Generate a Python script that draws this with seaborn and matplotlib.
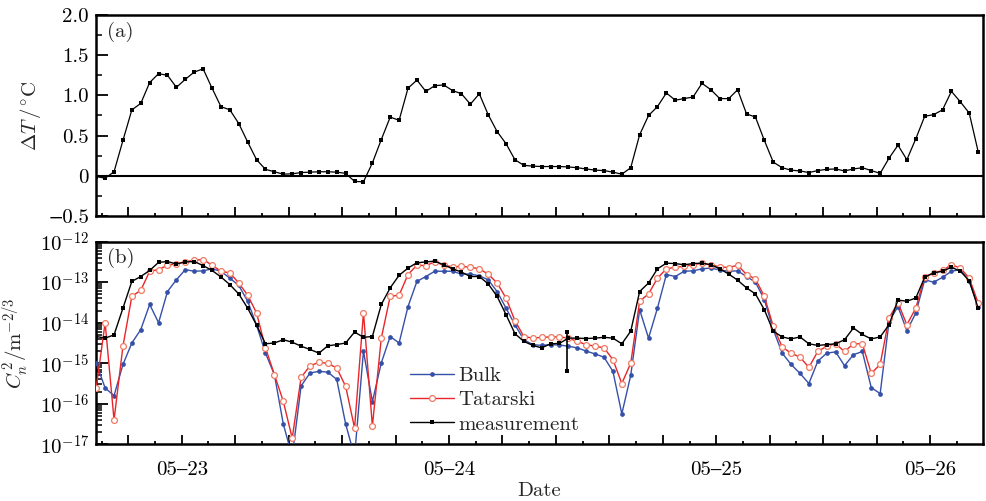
import numpy as np
import pandas as pd
import matplotlib
matplotlib.use("Agg")
import matplotlib.pyplot as plt
import seaborn as sns
from matplotlib.ticker import FixedLocator, LogLocator, NullFormatter, MultipleLocator

# ---------------- data ----------------
# time axis in days (05-23 00:00 = 1.0), 100 samples
t = np.linspace(0.68, 3.98, 100)

dT = [-0.01, -0.03, 0.05, 0.44, 0.82, 0.90, 1.16, 1.27, 1.25, 1.10,
      1.20, 1.29, 1.33, 1.09, 0.86, 0.82, 0.65, 0.42, 0.20, 0.08,
      0.05, 0.02, 0.025, 0.04, 0.045, 0.05, 0.05, 0.045, 0.03, -0.07,
      -0.075, 0.16, 0.45, 0.73, 0.69, 1.09, 1.19, 1.05, 1.12, 1.13,
      1.06, 1.02, 0.89, 1.02, 0.76, 0.55, 0.40, 0.20, 0.13, 0.12,
      0.115, 0.115, 0.115, 0.11, 0.10, 0.085, 0.07, 0.065, 0.045, 0.02,
      0.10, 0.51, 0.75, 0.86, 1.03, 0.94, 0.96, 0.98, 1.15, 1.07,
      0.96, 0.96, 1.07, 0.77, 0.73, 0.44, 0.17, 0.10, 0.07, 0.06,
      0.04, 0.065, 0.08, 0.085, 0.06, 0.085, 0.10, 0.065, 0.03, 0.22,
      0.38, 0.20, 0.46, 0.74, 0.76, 0.82, 1.05, 0.92, 0.78, 0.30]

# log10 of Cn^2 (m^-2/3)
meas_log = [-14.34, -14.38, -14.30, -13.64, -12.98, -12.86, -12.71, -12.51, -12.49, -12.55,
            -12.50, -12.49, -12.59, -12.71, -12.87, -13.06, -13.29, -13.64, -14.06, -14.52,
            -14.50, -14.42, -14.48, -14.58, -14.66, -14.75, -14.57, -14.54, -14.50, -14.23,
            -14.36, -14.34, -13.55, -13.14, -12.83, -12.65, -12.52, -12.50, -12.48, -12.57,
            -12.67, -12.75, -12.86, -12.86, -13.04, -13.35, -13.80, -14.27, -14.46, -14.56,
            -14.62, -14.52, -14.51, -14.38, -14.38, -14.39, -14.38, -14.36, -14.38, -14.52,
            -14.21, -13.23, -13.02, -12.67, -12.53, -12.54, -12.57, -12.54, -12.53, -12.57,
            -12.67, -12.80, -12.95, -13.14, -13.29, -13.68, -14.21, -14.35, -14.40, -14.35,
            -14.52, -14.56, -14.54, -14.52, -14.42, -14.13, -14.29, -14.40, -14.35, -14.05,
            -13.44, -13.47, -13.39, -12.88, -12.77, -12.73, -12.63, -12.73, -12.96, -13.64]

tat_log = [-15.60, -14.00, -16.40, -14.58, -13.35, -13.20, -12.73, -12.69, -12.58, -12.55,
           -12.49, -12.46, -12.44, -12.58, -12.73, -12.77, -13.02, -13.32, -13.76, -14.62,
           -15.28, -15.94, -16.85, -15.35, -15.06, -14.98, -15.00, -15.12, -15.57, -16.60,
           -13.75, -16.55, -14.38, -13.35, -13.32, -12.81, -12.58, -12.59, -12.50, -12.58,
           -12.62, -12.61, -12.63, -12.67, -12.80, -13.02, -13.39, -13.95, -14.34, -14.38,
           -14.36, -14.35, -14.35, -14.38, -14.46, -14.54, -14.58, -14.62, -14.91, -15.50,
           -15.00, -13.47, -13.29, -12.90, -12.67, -12.63, -12.61, -12.57, -12.53, -12.57,
           -12.62, -12.64, -12.58, -12.81, -12.92, -13.35, -14.09, -14.60, -14.75, -14.85,
           -15.10, -14.71, -14.58, -14.52, -14.71, -14.52, -14.52, -15.25, -15.03, -13.88,
           -13.51, -14.05, -13.64, -12.86, -12.77, -12.71, -12.57, -12.65, -12.90, -13.51]

bulk_log = [-15.00, -15.61, -15.80, -15.03, -14.50, -14.17, -13.55, -14.00, -13.23, -12.94,
            -12.69, -12.73, -12.72, -12.67, -12.73, -12.90, -13.08, -13.47, -14.06, -14.75,
            -15.28, -16.50, -17.30, -15.56, -15.24, -15.20, -15.22, -15.40, -16.50, -17.30,
            -14.70, -15.95, -14.99, -14.34, -14.50, -13.60, -12.98, -12.86, -12.73, -12.73,
            -12.73, -12.80, -12.80, -12.84, -12.94, -13.23, -13.64, -14.05, -14.42, -14.54,
            -14.56, -14.54, -14.55, -14.58, -14.62, -14.70, -14.77, -14.85, -15.20, -16.25,
            -15.30, -13.68, -14.38, -13.64, -12.81, -12.86, -12.73, -12.72, -12.67, -12.65,
            -12.70, -12.73, -12.72, -12.86, -13.00, -13.43, -14.17, -14.75, -15.03, -15.25,
            -15.50, -14.95, -14.75, -14.72, -15.06, -14.79, -14.71, -15.60, -15.75, -13.97,
            -13.60, -14.20, -13.76, -12.94, -13.00, -12.88, -12.73, -12.69, -12.98, -13.60]

# short vertical excursion in the measurement record
spike_t = [2.443, 2.443]
spike_log = [-14.22, -15.18]

x_major = [0.8, 1.0, 1.2, 1.4, 1.6, 1.8, 2.0, 2.2, 2.4, 2.6, 2.8, 3.0, 3.2, 3.4, 3.6, 3.8]
x_labels = {1.0: "05\u201323", 2.0: "05\u201324", 3.0: "05\u201325", 3.8: "05\u201326"}
dT_ticks = [-0.5, 0, 0.5, 1.0, 1.5, 2.0]
dT_ticklabels = ["\u22120.5", "0", "0.5", "1.0", "1.5", "2.0"]
cn_exps = [-17, -16, -15, -14, -13, -12]

# ---------------- style ----------------
sns.set_theme(style="ticks")
plt.rcParams["font.family"] = ["cmr10", "STIXGeneral", "DejaVu Serif"]
plt.rcParams["mathtext.fontset"] = "cm"
plt.rcParams["axes.unicode_minus"] = True
plt.rcParams["axes.linewidth"] = 1.8
FS = 15

fig = plt.figure(figsize=(9.86, 5.01), dpi=100)
fig.patch.set_facecolor("white")
ax1 = fig.add_axes([0.0974, 0.5689, 0.8996, 0.4012])
ax2 = fig.add_axes([0.0974, 0.1132, 0.8996, 0.4044])

xmin, xmax = 0.6793, 3.9983

# ---------------- panel (a) ----------------
df_a = pd.DataFrame({"t": t, "dT": dT})
ax1.axhline(0, color="black", lw=1.5, zorder=1)
sns.lineplot(data=df_a, x="t", y="dT", ax=ax1, color="black", lw=0.9,
             marker="s", markersize=2.6, markeredgewidth=0, zorder=3)
ax1.set_xlim(xmin, xmax)
ax1.set_ylim(-0.5, 2.0)
ax1.set_yticks(dT_ticks)
ax1.set_yticklabels(dT_ticklabels)
ax1.yaxis.set_minor_locator(MultipleLocator(0.25))
ax1.set_xlabel("")
ax1.set_ylabel(r"$\Delta T\,/^{\circ}\mathrm{C}$", fontsize=FS, labelpad=4)
ax1.text(0.012, 0.965, "(a)", transform=ax1.transAxes, ha="left", va="top", fontsize=FS)

# ---------------- panel (b) ----------------
df_b = pd.DataFrame({"t": t,
                     "Bulk": 10.0 ** np.array(bulk_log),
                     "Tatarski": 10.0 ** np.array(tat_log),
                     "measurement": 10.0 ** np.array(meas_log)})
sns.lineplot(data=df_b, x="t", y="Bulk", ax=ax2, color="#3550a8", lw=1.0,
             marker="o", markersize=3.4, markeredgewidth=0, label="Bulk", zorder=3)
sns.lineplot(data=df_b, x="t", y="Tatarski", ax=ax2, color="#e8262a", lw=1.0,
             marker="o", markersize=4.2, markerfacecolor="white",
             markeredgecolor="#f07a62", markeredgewidth=0.9, label="Tatarski", zorder=4)
sns.lineplot(data=df_b, x="t", y="measurement", ax=ax2, color="black", lw=1.0,
             marker="s", markersize=3.2, markeredgewidth=0, label="measurement", zorder=5)
ax2.plot(spike_t, 10.0 ** np.array(spike_log), color="black", lw=1.2,
         marker="s", markersize=3.2, markeredgewidth=0, zorder=5)

ax2.set_yscale("log")
ax2.set_xlim(xmin, xmax)
ax2.set_ylim(1e-17, 1e-12)
ax2.yaxis.set_major_locator(FixedLocator([10.0 ** e for e in cn_exps]))
ax2.set_yticklabels([r"$10^{%d}$" % e for e in cn_exps])
ax2.yaxis.set_minor_locator(LogLocator(base=10, subs=np.arange(2, 10), numticks=20))
ax2.yaxis.set_minor_formatter(NullFormatter())
ax2.set_ylabel(r"$C_n^{\,2}/\mathrm{m}^{-2/3}$", fontsize=FS, labelpad=6)
ax2.set_xlabel("Date", fontsize=FS, labelpad=2)
ax2.text(0.012, 0.969, "(b)", transform=ax2.transAxes, ha="left", va="top", fontsize=FS)

leg = ax2.legend(loc="upper left", bbox_to_anchor=(0.338, 0.455), frameon=False,
                 fontsize=FS, handlelength=2.1, handletextpad=0.2,
                 labelspacing=0.27, borderpad=0.2, numpoints=1)

# ---------------- shared ticks / spines ----------------
for ax in (ax1, ax2):
    ax.xaxis.set_major_locator(FixedLocator(x_major))
    ax.xaxis.set_minor_locator(FixedLocator([v + 0.1 for v in [0.6] + x_major]))
    ax.tick_params(axis="both", which="both", direction="in", top=False, right=False,
                   labelsize=FS, colors="black")
    ax.tick_params(axis="y", which="major", length=8.5, width=1.3, pad=5)
    ax.tick_params(axis="y", which="minor", length=4.5, width=1.1)
    ax.tick_params(axis="x", which="major", length=6.5, width=1.3, pad=12)
    ax.tick_params(axis="x", which="minor", length=2.5, width=1.3)
    for s in ax.spines.values():
        s.set_visible(True)
        s.set_linewidth(1.8)
        s.set_color("black")
    ax.grid(False)
    ax.set_facecolor("white")

ax1.set_xticklabels([""] * len(x_major))
ax2.set_xticklabels([x_labels.get(v, "") for v in x_major])

fig.savefig("out.png", dpi=100, facecolor="white")
